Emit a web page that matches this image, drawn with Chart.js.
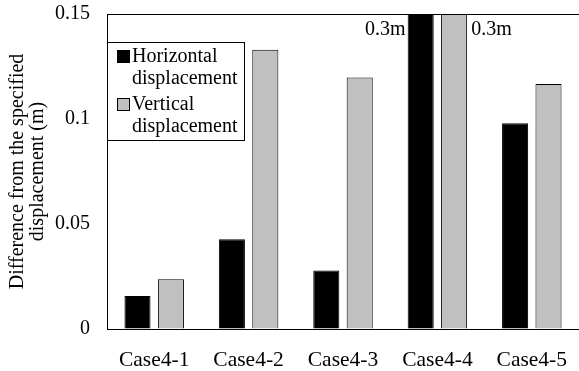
<!DOCTYPE html>
<html>
<head>
<meta charset="utf-8">
<script src="https://cdn.jsdelivr.net/npm/chart.js@4.4.0/dist/chart.umd.min.js"></script>
<style>
  html, body { margin: 0; padding: 0; background: #fff; }
  #wrap { width: 579px; height: 371px; }
</style>
</head>
<body>
<div id="wrap"><canvas id="chart"></canvas></div>
<script>
const categories = ['Case4-1', 'Case4-2', 'Case4-3', 'Case4-4', 'Case4-5'];
const horizontal = [0.0157, 0.0427, 0.0278, 0.3, 0.098];
const vertical = [0.0237, 0.133, 0.1198, 0.3, 0.1167];
const seriesNames = [['Horizontal', 'displacement'], ['Vertical', 'displacement']];
const yTicks = [0, 0.05, 0.1, 0.15];
const yTitle = ['Difference from the specified', 'displacement (m)'];

const FONT = 'Liberation Serif';
const FS = 20;

// legend box in the upper left corner, with two-line labels
const boxLegend = {
    id: 'boxLegend',
    afterDraw(chart) {
        const ctx = chart.ctx;
        const area = chart.chartArea;
        const x0 = area.left, y0 = area.top + 28;
        ctx.save();
        ctx.fillStyle = '#fff';
        ctx.fillRect(x0, y0, 137, 98);
        ctx.strokeStyle = '#000';
        ctx.lineWidth = 1;
        ctx.strokeRect(x0 + 0.5, y0 + 0.5, 137, 98);
        ctx.font = FS + 'px "' + FONT + '"';
        ctx.textBaseline = 'middle';
        ctx.textAlign = 'left';
        chart.data.datasets.forEach((ds, i) => {
            const cy = y0 + 15 + i * 48;
            ctx.fillStyle = ds.backgroundColor;
            ctx.fillRect(x0 + 10.5, cy - 6.5, 12, 12);
            ctx.strokeStyle = '#000';
            ctx.strokeRect(x0 + 10.5, cy - 6.5, 12, 12);
            ctx.fillStyle = '#000';
            seriesNames[i].forEach((line, j) => {
                ctx.fillText(line, x0 + 25, cy + j * 22);
            });
        });
        ctx.restore();
    }
};

// top frame line and labels for the bars running off the chart
const extras = {
    id: 'extras',
    afterDatasetsDraw(chart) {
        const ctx = chart.ctx;
        const area = chart.chartArea;
        const yMax = chart.scales.y.max;
        ctx.save();
        ctx.strokeStyle = '#000';
        ctx.lineWidth = 1;
        ctx.beginPath();
        ctx.moveTo(area.left, area.top + 0.5);
        ctx.lineTo(chart.width, area.top + 0.5);
        ctx.stroke();
        ctx.font = FS + 'px "' + FONT + '"';
        ctx.fillStyle = '#000';
        ctx.textBaseline = 'middle';
        chart.data.datasets.forEach((ds, i) => {
            const meta = chart.getDatasetMeta(i);
            ds.data.forEach((v, k) => {
                if (v <= yMax) return;
                const bar = meta.data[k];
                const txt = v + 'm';
                if (i === 0) {
                    ctx.textAlign = 'right';
                    ctx.fillText(txt, bar.x - bar.width / 2 - 2, area.top + 16);
                } else {
                    ctx.textAlign = 'left';
                    ctx.fillText(txt, bar.x + bar.width / 2 + 4, area.top + 16);
                }
            });
        });
        ctx.restore();
    }
};

new Chart(document.getElementById('chart'), {
    type: 'bar',
    data: {
        labels: categories,
        datasets: [{
            label: seriesNames[0].join(' '),
            data: horizontal,
            backgroundColor: '#000000',
            borderColor: '#000000',
            borderWidth: 1
        }, {
            label: seriesNames[1].join(' '),
            data: vertical,
            backgroundColor: '#c0c0c0',
            borderColor: '#000000',
            borderWidth: 1
        }]
    },
    options: {
        responsive: true,
        maintainAspectRatio: false,
        animation: false,
        categoryPercentage: 0.708,
        barPercentage: 0.78,
        layout: { padding: { top: 14, right: 0, left: 0, bottom: 0 } },
        plugins: {
            legend: { display: false },
            tooltip: { enabled: false }
        },
        scales: {
            x: {
                grid: { color: 'rgba(0,0,0,0)', drawTicks: false },
                border: { display: true, color: '#000', width: 1 },
                ticks: { color: '#000', font: { family: FONT, size: 21.5 }, padding: 18, maxRotation: 0 },
                afterFit: scale => {
                    scale.height = 42;
                    scale.paddingLeft = 0;
                    scale.paddingRight = 0;
                }
            },
            y: {
                min: 0,
                max: 0.15,
                afterBuildTicks: scale => { scale.ticks = yTicks.map(v => ({ value: v })); },
                grid: { color: 'rgba(0,0,0,0)', drawTicks: false },
                border: { display: true, color: '#000', width: 1 },
                ticks: {
                    color: '#000',
                    font: { family: FONT, size: FS },
                    padding: 17,
                    callback: v => String(+v.toFixed(2))
                },
                title: {
                    display: true,
                    text: yTitle,
                    color: '#000',
                    font: { family: FONT, size: FS, lineHeight: 1.0 },
                    padding: { top: 8, bottom: 0 }
                },
                afterFit: scale => {
                    scale.width = 107;
                    scale.paddingTop = 0;
                    scale.paddingBottom = 0;
                }
            }
        }
    },
    plugins: [extras, boxLegend]
});
</script>
</body>
</html>
